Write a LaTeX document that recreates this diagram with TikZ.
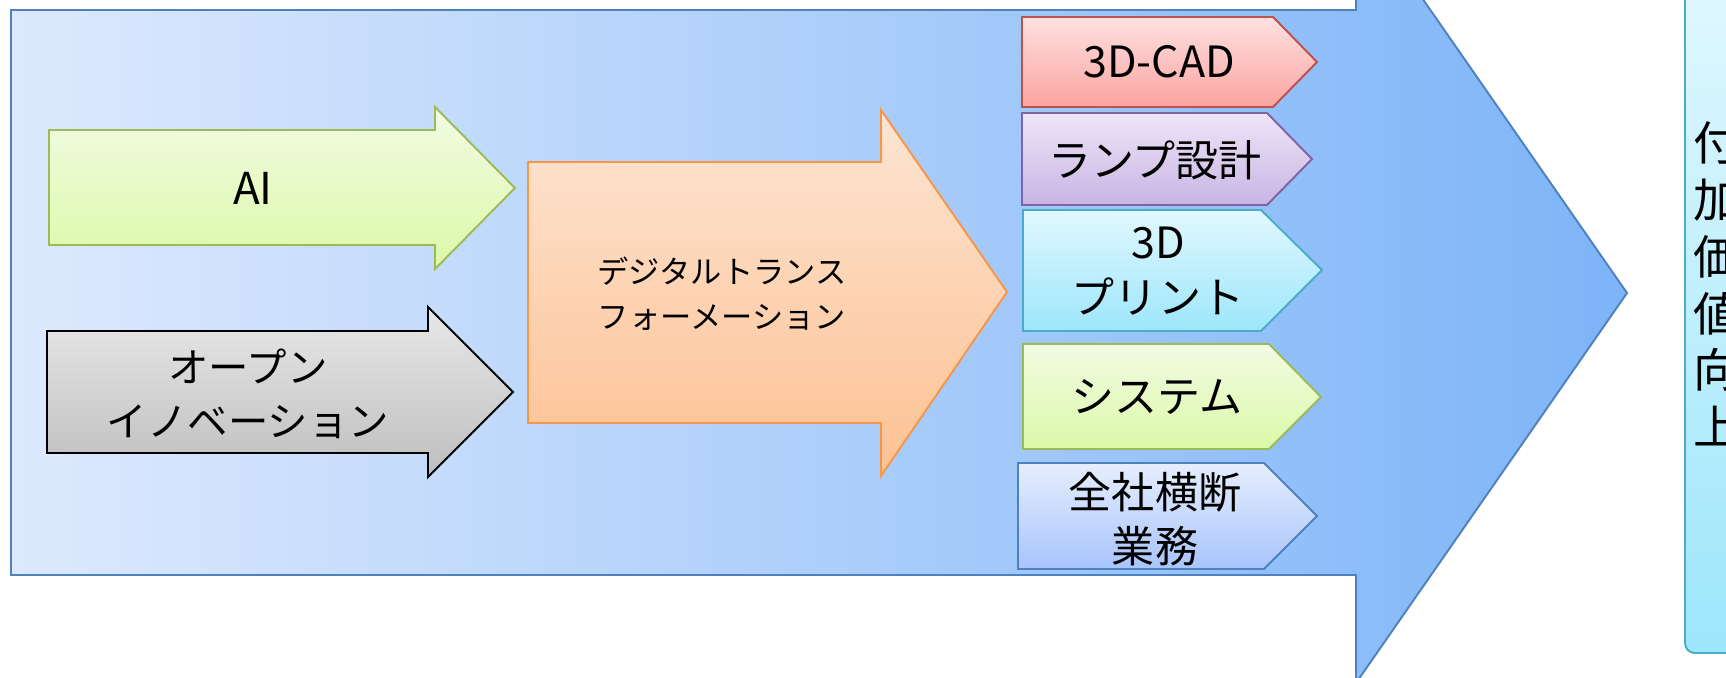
\documentclass[tikz,border=0pt]{standalone}
\usepackage{fontspec}
\setmainfont{Noto Sans CJK JP}
\usepackage{xcolor}
\definecolor{bgL}{HTML}{DDE9FD}
\definecolor{bgR}{HTML}{7DB4F8}
\definecolor{bgD}{HTML}{4F81BD}
\definecolor{gT}{HTML}{F1FBE3}
\definecolor{gB}{HTML}{DCF9A8}
\definecolor{gD}{HTML}{9BBB59}
\definecolor{gyT}{HTML}{E8E8E8}
\definecolor{gyB}{HTML}{BEBEBE}
\definecolor{oT}{HTML}{FDE5D3}
\definecolor{oB}{HTML}{FDC193}
\definecolor{oD}{HTML}{F79646}
\definecolor{rT}{HTML}{FDE1E1}
\definecolor{rB}{HTML}{FBA4A0}
\definecolor{rD}{HTML}{C0504D}
\definecolor{vT}{HTML}{EEE6F8}
\definecolor{vB}{HTML}{C8B4E3}
\definecolor{vD}{HTML}{8064A2}
\definecolor{cT}{HTML}{E1F8FE}
\definecolor{cB}{HTML}{9DE6FB}
\definecolor{cD}{HTML}{4BACC6}
\definecolor{bT}{HTML}{E6EEFD}
\definecolor{bB}{HTML}{A8C4FB}

\begin{document}
\begin{tikzpicture}[x=0.02cm,y=-0.02cm,
  every node/.style={align=center,inner sep=0pt,text=black},%
  ln/.style={line width=1.1pt,line join=miter},%
  lab/.style={font=\fontsize{24.5}{31}\selectfont},%
  bg/.style={ln,left color=bgL,right color=bgR,draw=bgD},%
  g/.style={ln,top color=gT,bottom color=gB,draw=gD},%
  gy/.style={ln,top color=gyT,bottom color=gyB,draw=black},%
  o/.style={ln,top color=oT,bottom color=oB,draw=oD},%
  r/.style={ln,top color=rT,bottom color=rB,draw=rD},%
  v/.style={ln,top color=vT,bottom color=vB,draw=vD},%
  c/.style={ln,top color=cT,bottom color=cB,draw=cD},%
  b/.style={ln,top color=bT,bottom color=bB,draw=bgD}
  ]
  \useasboundingbox (0,0) rectangle (1726,678);
  \clip (0,0) rectangle (1726,678);
  % big arrow
  \draw [bg] (11,10) -- (1356,10) -- (1356,-97) -- (1627,293) -- (1356,683)
    -- (1356,575) -- (11,575) -- cycle;
  % result box
  \draw [c,rounded corners=5.6pt] (1685,-30) rectangle (1800,653);
  \node (val) [anchor=west,align=left,font=\fontsize{26.5}{32.3}\selectfont]
    at (1693,284) {付\\加\\価\\値\\向\\上};
  % inputs
  \draw [g] (49,130) -- (435,130) -- (435,107) -- (515,188) -- (435,269)
    -- (435,245) -- (49,245) -- cycle;
  \node (ai) at (253,188) [font=\fontsize{25}{28}\selectfont] {AI};
  \draw [gy] (47,331) -- (428,331) -- (428,307) -- (513,392) -- (428,477)
    -- (428,453) -- (47,453) -- cycle;
  \node (oi) at (248,394) [font=\fontsize{23}{31}\selectfont] {オープン\\イノベーション};
  \draw [o] (528,162) -- (881,162) -- (881,110) -- (1007,292) -- (881,476)
    -- (881,423) -- (528,423) -- cycle;
  \node (dx) at (722,294) [font=\fontsize{17.8}{25.5}\selectfont] {デジタルトランス\\フォーメーション};
  % fields
  \draw [r] (1022,17) -- (1273,17) -- (1317,62) -- (1273,107) -- (1022,107) -- cycle;
  \node (cad) at (1159,62) [lab] {3D-CAD};
  \draw [v] (1022,113) -- (1267,113) -- (1312,159) -- (1267,205) -- (1022,205) -- cycle;
  \node (lamp) at (1155,160) [lab] {ランプ設計};
  \draw [c] (1023,210) -- (1261,210) -- (1322,270) -- (1261,331) -- (1023,331) -- cycle;
  \node (prt) at (1158,271) [lab] {3D\\プリント};
  \draw [g] (1023,344) -- (1269,344) -- (1321,397) -- (1269,449) -- (1023,449) -- cycle;
  \node (sys) at (1157,397) [lab] {システム};
  \draw [b] (1018,463) -- (1264,463) -- (1317,516) -- (1264,569) -- (1018,569) -- cycle;
  \node (biz) at (1155,519) [lab] {全社横断\\業務};
\end{tikzpicture}
\end{document}
